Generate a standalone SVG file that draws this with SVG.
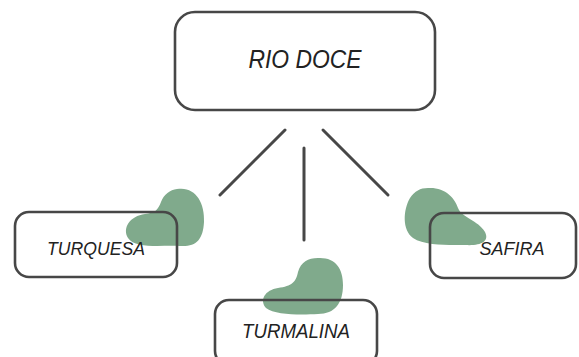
<svg xmlns="http://www.w3.org/2000/svg" width="579" height="357" viewBox="0 0 579 357">
<style>
.box{fill:none;stroke:#474747;stroke-width:2.6}
.blob{fill:#80aa8c}
.lbl{font-family:"Liberation Sans","DejaVu Sans",sans-serif;font-style:italic;fill:#222;text-anchor:middle}
.con line{stroke:#474747;stroke-width:3;stroke-linecap:round}
</style>
<rect width="579" height="357" fill="#fff"/>
<g id="rio-doce">
<rect class="box" x="175" y="12" width="260" height="98" rx="20"/>
<text class="lbl" x="305" y="68" font-size="26" textLength="113" lengthAdjust="spacingAndGlyphs">RIO DOCE</text>
</g>
<g class="con" id="connectors">
<line x1="285" y1="130" x2="220" y2="195"/>
<line x1="304" y1="148" x2="304" y2="240"/>
<line x1="323" y1="130" x2="388" y2="195"/>
</g>
<g id="turquesa">
<path class="blob" d="M 177 189 C 195 186, 205 202, 204 222 C 203 240, 196 247, 180 246 C 160 245, 135 249, 128 238 C 122 228, 130 216, 145 214 C 155 213, 158 210, 161 202 C 164 194, 170 190, 177 189 Z"/>
<rect class="box" x="15" y="212" width="162" height="65" rx="14"/>
<text class="lbl" x="96" y="255" font-size="19" textLength="98" lengthAdjust="spacingAndGlyphs">TURQUESA</text>
</g>
<g id="safira">
<path class="blob" d="M 428 188 C 445 187, 455 198, 458 208 C 462 218, 478 220, 485 232 C 490 242, 480 246, 465 245 C 450 245, 425 246, 413 238 C 402 230, 403 210, 410 198 C 415 191, 420 188, 428 188 Z"/>
<rect class="box" x="430" y="213" width="146" height="65" rx="14"/>
<text class="lbl" x="512" y="255" font-size="19" textLength="65" lengthAdjust="spacingAndGlyphs">SAFIRA</text>
</g>
<g id="turmalina">
<path class="blob" d="M 318 258 C 335 257, 343 268, 343 285 C 343 303, 335 314, 318 314 C 300 315, 275 315, 266 308 C 259 300, 265 290, 278 288 C 292 286, 296 282, 298 272 C 301 262, 308 258, 318 258 Z"/>
<rect class="box" x="215" y="300" width="162" height="65" rx="14"/>
<text class="lbl" x="296" y="338" font-size="21" textLength="108" lengthAdjust="spacingAndGlyphs">TURMALINA</text>
</g>
</svg>
